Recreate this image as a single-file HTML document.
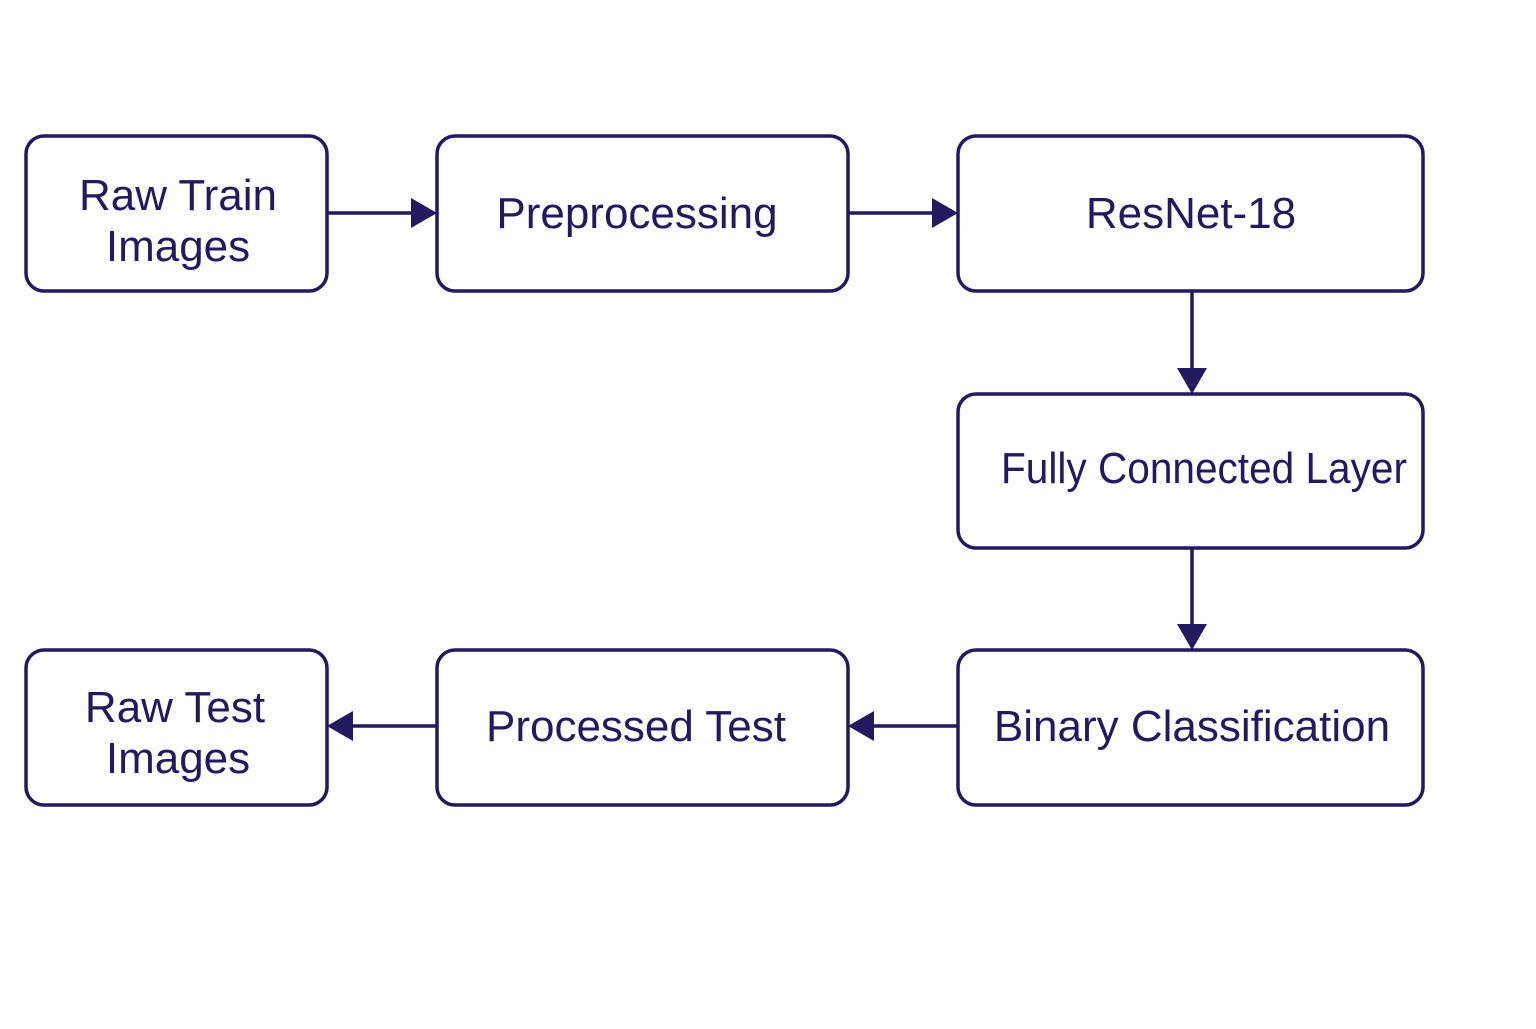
<!DOCTYPE html>
<html><head><meta charset="utf-8"><style>
body{margin:0;background:#fdfdfd;}
svg text{font-family:"Liberation Sans",sans-serif;font-size:44px;fill:#23195e;text-anchor:middle;}
</style></head><body>
<svg width="1536" height="1024" viewBox="0 0 1536 1024" xmlns="http://www.w3.org/2000/svg">
<g fill="none" stroke="#23195e" stroke-width="3.5">
<rect x="26" y="136" width="301" height="155" rx="18"/>
<rect x="437" y="136" width="411" height="155" rx="18"/>
<rect x="958" y="136" width="465" height="155" rx="18"/>
<rect x="958" y="394" width="465" height="154" rx="18"/>
<rect x="958" y="650" width="465" height="155" rx="18"/>
<rect x="437" y="650" width="411" height="155" rx="18"/>
<rect x="26" y="650" width="301" height="155" rx="18"/>
<line x1="327" y1="213" x2="415" y2="213"/>
<line x1="848" y1="213" x2="936" y2="213"/>
<line x1="1192" y1="291" x2="1192" y2="372"/>
<line x1="1192" y1="548" x2="1192" y2="628"/>
<line x1="958" y1="726" x2="872" y2="726"/>
<line x1="437" y1="726" x2="351" y2="726"/>
</g>
<g fill="#23195e">
<polygon points="411,198 437,213 411,228"/>
<polygon points="932,198 958,213 932,228"/>
<polygon points="1177,368 1207,368 1192,394"/>
<polygon points="1177,624 1207,624 1192,650"/>
<polygon points="874,711 848,726 874,741"/>
<polygon points="353,711 327,726 353,741"/>
</g>
<text x="178" y="210">Raw Train</text>
<text x="178" y="261">Images</text>
<text x="637" y="228">Preprocessing</text>
<text x="1191" y="228">ResNet-18</text>
<text x="1204" y="483" textLength="406" lengthAdjust="spacingAndGlyphs">Fully Connected Layer</text>
<text x="1192" y="741">Binary Classification</text>
<text x="636" y="741">Processed Test</text>
<text x="175" y="722">Raw Test</text>
<text x="178" y="773">Images</text>
</svg>
</body></html>
